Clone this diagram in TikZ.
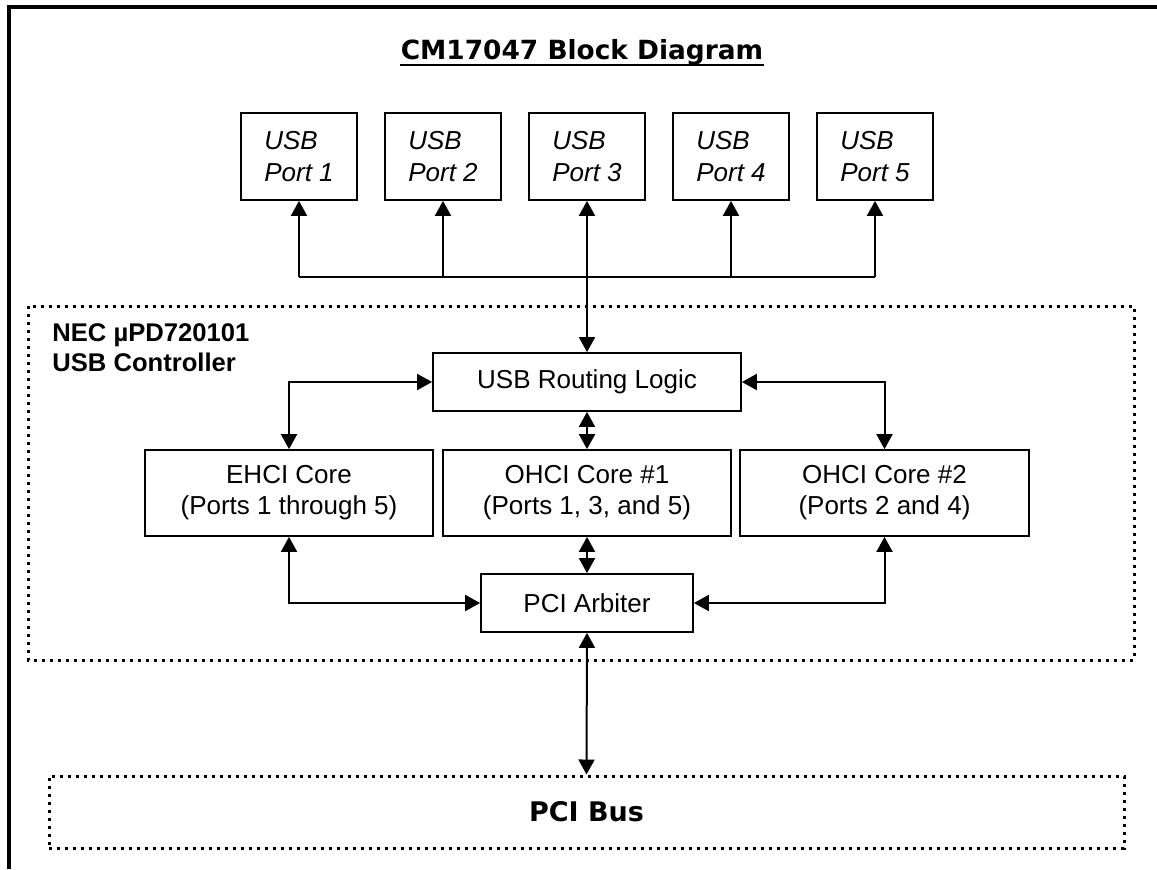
\documentclass[tikz,border=0pt]{standalone}
\usepackage{fontspec}
\setmainfont{Liberation Sans}
\newfontfamily\verdanafont{DejaVu Sans}
\usetikzlibrary{arrows.meta,positioning}

\tikzset{
    blk/.style={draw, line width=0.9pt, inner sep=0pt, align=center, font=\fontsize{13}{15.5}\selectfont},
    portbox/.style={blk, minimum width=58pt, minimum height=43.5pt, align=left, font=\itshape\fontsize{13}{16}\selectfont},
    dotbox/.style={draw, line width=1.5pt, dash pattern=on 1.5pt off 2.5pt},
    onearr/.style={line width=1pt, -{Triangle[length=7.5pt,width=8pt]}},
    twoarr/.style={line width=1pt, {Triangle[length=7.5pt,width=8pt]}-{Triangle[length=7.5pt,width=8pt]}}
}

\begin{document}
\begin{tikzpicture}[x=0.5pt, y=-0.5pt]
    \useasboundingbox (0,0) rectangle (1157,869);
    \draw[line width=2pt] (9,869) -- (9,7) -- (1157,7);

    % title
    \node[inner sep=0pt, font=\verdanafont\bfseries\fontsize{13.2}{15}\selectfont] (title) at (582,52) {CM17047 Block Diagram};
    \draw[line width=1pt] ([yshift=-3pt]title.base west) -- ([yshift=-3pt]title.base east);

    % ports and their bus
    \foreach \i/\x in {1/299,2/443,3/587,4/731,5/875} {
        \node[portbox] (port\i) at (\x,156.5) {USB\\Port \i};
        \coordinate (bus\i) at (\x,277);
    }
    \draw[line width=1pt] (bus1) -- (bus5);
    \foreach \i in {1,2,4,5}
        \draw[onearr] (bus\i) -- (port\i.south);

    % controller
    \draw[dotbox] (28,306) rectangle (1134,660);
    \node[anchor=west, inner sep=0pt, align=left, font=\bfseries\fontsize{12.8}{15}\selectfont] (neclbl) at (52,348) {NEC µPD720101\\USB Controller};

    \node[blk, minimum width=154pt, minimum height=29pt] (routing) at (587,382) {USB Routing Logic};
    \node[blk, minimum width=144pt, minimum height=43pt] (ehci) at (289,493) {EHCI Core\\(Ports 1 through 5)};
    \node[blk, minimum width=144pt, minimum height=43pt] (ohci1) at (587,493) {OHCI Core \#1\\(Ports 1, 3, and 5)};
    \node[blk, minimum width=144.5pt, minimum height=43pt] (ohci2) at (884.5,493) {OHCI Core \#2\\(Ports 2 and 4)};
    \node[blk, minimum width=106pt, minimum height=29pt] (arbiter) at (587,603) {PCI Arbiter};

    \node[dotbox, minimum width=537.5pt, minimum height=36pt, font=\verdanafont\bfseries\fontsize{13.5}{16}\selectfont] (pcibus) at (586.5,812) {PCI Bus};

    \draw[twoarr] (routing.north) -- (port3.south);
    \draw[twoarr] (ehci.north) |- (routing.west);
    \draw[twoarr] (routing.east) -| (ohci2.north);
    \draw[twoarr] (routing.south) -- (ohci1.north);
    \draw[twoarr] (ohci1.south) -- (arbiter.north);
    \draw[twoarr] (ehci.south) |- (arbiter.west);
    \draw[twoarr] (ohci2.south) |- (arbiter.east);
    \draw[twoarr] (arbiter.south) -- (pcibus.north);
\end{tikzpicture}
\end{document}
